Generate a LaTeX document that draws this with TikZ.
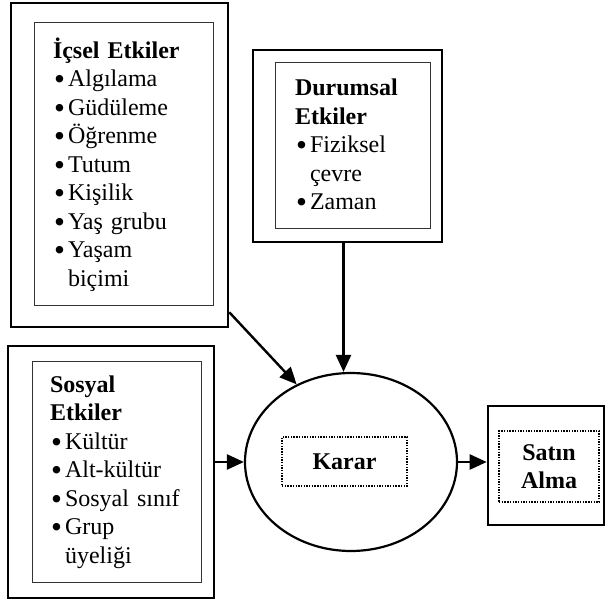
\documentclass[tikz,border=0pt]{standalone}
\usepackage{fontspec}
\setmainfont{Liberation Serif}
\usetikzlibrary{arrows.meta,shapes.geometric}
\newcommand{\itm}{\makebox[15pt][l]{\hspace{1pt}\raisebox{-2.8pt}{\scalebox{1.3}{\textbullet}}}}
\newcommand{\ind}{\hspace*{15pt}}

\begin{document}
\begin{tikzpicture}[x=1pt,y=-1pt,font=\fontsize{24}{28.5}\selectfont,
  outerbox/.style={draw,line width=2.6pt,inner sep=0pt},
  innerbox/.style={draw=black!80,line width=1pt,align=left,inner ysep=0pt},
  dotbox/.style={draw,line width=1.5pt,dash pattern=on 1.4pt off 1.3pt,align=center,inner sep=0pt},
  arr/.style={line width=2.4pt,-{Triangle[length=17pt,width=15pt]}}]
\useasboundingbox (0,0) rectangle (605,601);

\node[outerbox,minimum width=217pt,minimum height=324pt] (icselout) at (119.5,165) {};
\node[innerbox,minimum width=179pt,minimum height=283pt,text width=141pt,inner xsep=19pt] (icsel) at (123.5,164.5)
  {\textbf{İçsel Etkiler}\\ \itm Algılama\\ \itm Güdüleme\\ \itm Öğrenme\\ \itm Tutum\\ \itm Kişilik\\ \itm Yaş grubu\\ \itm Yaşam\\ \ind biçimi};

\node[outerbox,minimum width=189pt,minimum height=192pt] (durumsalout) at (347.5,146) {};
\node[innerbox,minimum width=155pt,minimum height=166pt,text width=115pt,inner xsep=20pt] (durumsal) at (352.5,146)
  {\textbf{Durumsal}\\ \textbf{Etkiler}\\ \itm Fiziksel\\ \ind çevre\\ \itm Zaman};

\node[outerbox,minimum width=206pt,minimum height=252pt] (sosyalout) at (111,472) {};
\node[innerbox,minimum width=169pt,minimum height=220pt,text width=133pt,inner xsep=18pt] (sosyal) at (116.5,472)
  {\textbf{Sosyal}\\ \textbf{Etkiler}\\ \itm Kültür\\ \itm Alt-kültür\\ \itm Sosyal sınıf\\ \itm Grup\\ \ind üyeliği};

\node[draw,ellipse,line width=2.2pt,minimum width=212pt,minimum height=178pt] (karar) at (351,462) {};
\node[dotbox,minimum width=125pt,minimum height=49pt] (kararbox) at (344.5,461.5) {\textbf{Karar}};

\node[outerbox,minimum width=116pt,minimum height=119pt] (satinout) at (546,465.5) {};
\node[dotbox,minimum width=100pt,minimum height=71pt] (satin) at (549,466.5) {\textbf{Satın}\\ \textbf{Alma}};

\draw[arr] ([yshift=16pt]icselout.south east) -- (karar.125.6);
\draw[arr] ([xshift=-4pt]durumsalout.south) -- ([xshift=-4pt]durumsalout.south |- karar.north);
\draw[arr] (sosyalout.east |- karar.west) -- (karar.west);
\draw[arr] (karar.east) -- (satinout.west |- karar.east);
\end{tikzpicture}
\end{document}
